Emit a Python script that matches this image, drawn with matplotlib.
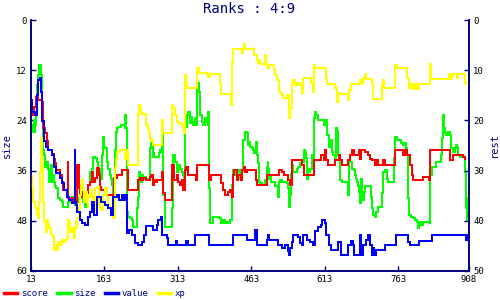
import matplotlib
matplotlib.use('Agg')
import matplotlib.pyplot as plt
from matplotlib.lines import Line2D

plt.rcParams['font.family'] = ['DejaVu Sans Mono']

# score (right axis)
score_x = [13, 16, 19, 24, 27, 36, 38, 42, 45, 48, 55, 59, 62, 65, 72, 76, 79, 86, 88, 89, 100,
           108, 111, 113, 120, 123, 130, 134, 137, 140, 144, 147, 151, 154, 157, 168, 183, 188, 198, 211,
           232, 235, 239, 242, 249, 256, 258, 262, 264, 268, 271, 281, 283, 287, 302, 305, 311, 314, 317,
           321, 324, 327, 330, 334, 350, 353, 376, 380, 402, 406, 409, 416, 420, 423, 425, 428,
           433, 437, 442, 445, 449, 451, 454, 472, 474, 495, 520, 525, 529, 539, 542, 546, 547, 566, 570,
           592, 606, 611, 614, 616, 620, 635, 642, 645, 648,
           661, 665, 668, 672, 684, 686, 688, 696, 702, 706, 709, 716, 719, 723, 733, 736, 757, 774, 777,
           781, 787, 791, 794, 813, 826, 828, 869, 876, 895, 900]
score_y = [17.6, 19.0, 17.3, 15.3, 16.0, 16.3, 21.6, 22.6, 24.2, 25.9, 26.6, 27.6, 28.5, 29.9, 30.9, 32.2, 33.9, 35.2, 28.2, 35.5, 36.2,
           28.9, 33.5, 35.2, 34.2, 35.2, 32.9, 32.2, 30.2, 32.2, 31.5, 29.5, 30.9, 33.2, 33.9, 34.9, 31.5, 30.9, 29.9, 33.9,
           31.9, 31.5, 31.9, 31.5, 31.9, 31.2, 30.9, 32.9, 31.9, 32.2, 31.9, 30.2, 34.5, 35.9, 28.9, 31.9, 30.9, 32.2, 32.9,
           31.9, 33.9, 29.9, 29.2, 30.9, 31.9, 28.9, 31.9, 30.9, 32.5, 33.9, 34.9, 34.2, 33.9, 35.2, 30.9, 29.9,
           31.9, 30.9, 31.9, 29.9, 29.2, 30.2, 29.9, 31.9, 32.9, 30.9, 29.9, 30.2, 30.9, 31.9, 32.9, 29.9, 27.9, 28.9, 30.9,
           27.9, 26.9, 27.9, 25.9, 27.9, 28.9, 27.9, 26.9, 27.9, 28.9,
           27.9, 26.9, 25.9, 26.9, 25.9, 27.6, 25.9, 26.2, 26.9, 27.6, 27.9, 28.9, 27.9, 28.9, 27.9, 28.9, 25.9, 26.9, 25.9,
           26.9, 28.9, 30.9, 31.9, 31.2, 31.9, 25.9, 27.9, 26.9, 27.2, 27.6]

# size (left axis)
size_x = [13, 15, 17, 19, 21, 22, 24, 26, 28, 29, 33, 35, 36, 38, 40, 41, 43, 47, 50, 52, 54, 55, 58,
          61, 63, 65, 69, 72, 76, 79, 89, 93, 96, 99, 103, 106, 110, 115, 120, 123, 127, 130, 133, 137,
          140, 143, 147, 150, 154, 157, 159, 161, 163, 164, 168, 171, 174, 176, 179, 181, 183, 185, 186,
          188, 191, 197, 205, 206, 208, 209, 212, 215, 220, 222,
          229, 230, 232, 234, 236, 237, 239, 242, 246, 249, 253, 256, 257, 259, 260, 262, 263, 264, 275,
          277, 278, 280, 281, 283, 287, 302, 304, 307, 311, 314, 317, 321, 324, 326, 328, 331, 334, 337,
          339, 341, 345, 348, 351, 353, 355, 357, 358, 362, 365, 369, 372, 374, 375, 377, 379, 385, 398,
          401, 406, 409, 413, 416, 419, 423, 424, 426, 430, 433, 437,
          440, 445, 447, 450, 454, 456, 459, 461, 464, 467, 469, 472, 474, 476, 478, 479, 481, 484, 491,
          495, 497, 498, 500, 501, 503, 512, 518, 520, 522, 525, 536, 539, 541, 542, 544, 547, 549, 556,
          559, 563, 566, 570, 573, 574, 576, 578, 580, 583, 588, 590, 592, 593, 595, 600, 612, 615, 617,
          621, 624, 626, 628, 631, 634, 637, 638, 639, 641, 644, 649,
          661, 663, 668, 672, 675, 677, 680, 682, 684, 685, 687, 689, 691, 693, 695, 707, 709, 712, 716,
          718, 723, 731, 733, 736, 740, 743, 755, 757, 760, 770, 774, 777, 779, 781, 783, 784, 786, 789,
          793, 798, 802, 804, 806, 808, 811, 814, 827, 829, 832, 841, 850, 852, 854, 856, 859, 862, 866,
          869, 871, 876, 879, 881, 884, 886, 890, 900, 902, 903, 905, 907]
size_y = [26.3, 25.1, 26.7, 23.9, 26.7, 25.1, 22.7, 15.5, 13.1, 10.8, 13.1, 18.7, 22.7, 31.1, 32.3, 35.1, 33.9, 35.5, 38.7, 37.1, 34.7, 38.7, 37.1,
          38.7, 39.8, 40.2, 42.6, 43.0, 43.4, 44.6, 43.4, 43.0, 42.2, 43.8, 44.2, 43.4, 42.6, 42.2, 43.4, 44.6, 43.4, 39.4, 36.3, 35.5,
          32.7, 33.1, 33.9, 35.5, 36.7, 37.9, 32.3, 27.9, 30.3, 30.7, 33.9, 35.5, 37.1, 37.9, 39.4, 41.8, 37.9, 31.1, 26.7,
          25.9, 25.5, 25.1, 25.9, 22.7, 25.9, 45.8, 47.0, 47.4, 47.8, 49.4,
          49.0, 45.0, 42.2, 36.3, 37.9, 38.7, 37.1, 37.9, 37.5, 38.3, 37.9, 37.1, 30.7, 28.7, 29.1, 32.7, 31.9, 32.7, 31.9,
          31.1, 31.5, 29.9, 26.7, 41.8, 49.4, 45.0, 32.3, 33.9, 36.3, 34.7, 35.5, 36.3, 37.1, 38.7, 25.5, 22.7, 21.9, 24.7,
          23.1, 24.3, 25.1, 23.5, 25.1, 15.5, 15.1, 17.1, 22.7, 24.3, 25.1, 23.5, 24.3, 25.1, 21.9, 40.2, 48.6, 47.0, 47.4,
          48.6, 47.8, 48.6, 48.2, 48.6, 47.8, 45.8, 39.4, 35.9, 37.1, 36.3, 35.9,
          37.9, 35.9, 28.7, 26.7, 27.1, 29.9, 29.1, 30.3, 30.7, 31.1, 31.9, 29.1, 32.3, 34.3, 37.1, 38.7, 39.0, 39.4, 38.3,
          35.1, 33.9, 35.5, 37.9, 37.1, 38.7, 39.8, 42.2, 38.7, 38.3, 38.7, 39.0, 40.2, 44.6, 41.8, 36.7, 34.7, 36.3, 35.5,
          35.1, 34.3, 33.9, 31.1, 31.5, 33.1, 37.9, 35.5, 36.3, 35.5, 32.3, 34.7, 23.5, 21.9, 22.7, 23.9, 25.1, 23.9, 27.5,
          30.3, 29.9, 28.7, 31.5, 32.3, 33.1, 25.9, 30.7, 26.5, 32.3, 38.3, 38.7,
          41.8, 33.9, 35.5, 35.9, 37.1, 37.9, 38.7, 39.8, 41.0, 43.8, 37.9, 41.8, 43.0, 41.0, 39.8, 42.2, 45.0, 46.6, 47.0,
          45.8, 44.6, 41.4, 36.3, 35.9, 37.9, 38.7, 33.1, 27.9, 28.7, 29.5, 29.9, 29.5, 30.7, 32.3, 36.7, 42.6, 46.6, 47.0,
          47.4, 47.8, 48.2, 49.8, 49.0, 48.2, 49.0, 48.2, 48.6, 37.1, 35.1, 33.9, 32.3, 28.3, 22.7, 25.9, 27.1, 27.5, 26.7,
          27.5, 30.7, 31.5, 30.7, 29.9, 30.3, 32.3, 32.7, 36.3, 45.0, 47.8, 42.6, 40.2]

# value (right axis)
value_x = [13, 16, 21, 25, 27, 31, 33, 36, 39, 43, 48, 55, 61, 65, 72, 77, 81, 86, 91, 96, 102, 103,
           104, 108, 113, 118, 123, 129, 134, 137, 142, 147, 157, 164, 170, 177, 181, 188, 193, 198, 204,
           206, 209, 213, 220, 226, 232, 239, 243, 249, 263, 270, 273, 278, 281, 290, 292, 309, 311, 330,
           334, 348, 376, 425, 454, 471, 474, 495, 497, 499, 518, 526, 533, 539, 541, 543, 546, 549, 558,
           563, 566, 569, 576, 583, 590, 593, 600, 606, 608, 614, 615, 621, 627, 641, 646, 661, 666, 670,
           673, 686, 688, 692, 697, 702, 706, 710, 712, 714, 717, 736, 759, 784, 787, 806, 833, 901, 903]
value_y = [15.9, 18.3, 18.9, 14.9, 12.0, 11.6, 14.3, 20.2, 24.2, 25.2, 25.9, 26.9, 29.2, 30.5, 31.5, 32.5, 33.9, 35.2, 35.9, 36.5, 25.9, 36.2,
           36.8, 38.2, 39.8, 40.5, 40.8, 39.2, 38.2, 36.2, 38.8, 35.2, 36.2, 36.8, 37.5, 38.8, 35.2, 34.9, 35.9, 34.9, 35.9,
           34.9, 42.5, 41.8, 42.8, 44.5, 44.8, 44.2, 42.8, 41.0, 41.8, 40.8, 39.8, 39.2, 42.8, 43.5, 44.8, 44.0, 44.8, 44.0,
           44.8, 42.8, 44.8, 42.8, 43.8, 41.8, 44.8, 43.9, 42.8, 43.9, 44.8, 45.5, 44.8, 46.0, 46.8, 45.5, 44.2, 42.8, 43.2,
           44.5, 44.8, 42.8, 43.8, 44.2, 44.8, 42.0, 41.2, 40.8, 39.8, 40.5, 42.8, 44.8, 45.8, 44.2, 46.8, 44.8, 44.0, 44.8,
           46.8, 42.8, 46.8, 44.8, 43.8, 42.8, 44.8, 46.8, 45.5, 46.8, 45.8, 44.8, 42.8, 44.2, 44.8, 44.0, 42.8, 43.8, 42.8]

# xp (right axis)
xp_x = [13, 16, 18, 21, 25, 27, 28, 30, 31, 33, 35, 36, 38, 40, 43, 45, 47, 50, 54, 57, 59, 61, 63,
        65, 69, 72, 76, 79, 82, 86, 88, 91, 93, 96, 100, 103, 104, 106, 108, 111, 113, 115, 118, 120,
        122, 124, 127, 129, 130, 134, 135, 137, 140, 144, 147, 151, 154, 157, 161, 164, 168, 171, 174,
        178, 181, 185, 186, 188, 195, 205, 206, 208, 212,
        232, 234, 236, 238, 239, 248, 249, 253, 255, 256, 258, 260, 262, 281, 283, 302, 304, 307, 311,
        314, 321, 324, 326, 328, 330, 332, 353, 356, 373, 375, 378, 400, 402, 421, 424, 426,
        445, 447, 449, 451, 469, 474, 477, 479, 481, 492, 494, 497, 499, 509, 512, 516, 519, 522, 525,
        528, 536, 541, 543, 546, 548, 552, 556, 563, 566, 568, 586, 589, 591, 593, 615, 618, 634, 639,
        641, 644, 660, 662, 667, 686, 688, 692, 695, 697, 710, 712, 730, 733, 735, 757, 760, 781, 785,
        788, 791, 794, 797, 800, 803, 805, 829, 831, 868, 870, 873, 876, 884, 886, 899, 901]
xp_y = [31.0, 33.5, 36.2, 37.5, 38.8, 37.5, 39.5, 36.2, 30.2, 23.6, 24.2, 29.5, 36.2, 40.2, 42.2, 39.8, 40.8, 41.5, 42.8, 43.2, 44.8, 45.8, 44.8,
        45.8, 44.2, 44.8, 43.8, 44.2, 43.8, 43.5, 39.8, 40.2, 42.2, 41.5, 43.5, 41.5, 40.2, 41.5, 39.5, 37.5, 34.9, 32.9, 31.9, 33.5,
        36.2, 34.2, 36.2, 37.2, 34.9, 35.2, 33.9, 35.2, 35.9, 33.5, 33.2, 36.8, 37.5, 37.8, 34.9, 33.5, 35.2, 36.8, 37.5,
        38.8, 39.5, 29.5, 27.6, 26.2, 25.9, 26.2, 27.6, 25.9, 28.9,
        18.9, 16.9, 17.6, 18.6, 18.8, 19.6, 20.9, 21.6, 22.6, 23.6, 24.2, 23.9, 24.9, 19.9, 22.6, 16.9, 17.6, 18.9, 20.2,
        20.6, 20.9, 21.6, 22.6, 11.0, 12.6, 13.6, 9.6, 10.6, 10.8, 11.3, 10.8, 12.6, 14.8, 16.9, 8.3, 5.8,
        6.6, 5.8, 4.8, 5.8, 7.0, 8.0, 8.6, 8.0, 8.8, 7.0, 9.0, 9.6, 9.0, 10.0, 11.0, 11.9, 13.9, 14.6, 14.9,
        15.6, 14.9, 19.6, 17.6, 12.6, 11.9, 12.9, 12.6, 12.9, 14.6, 11.6, 12.6, 14.3, 9.0, 9.6, 11.6, 12.8, 13.6, 16.3,
        14.6, 14.8, 15.9, 13.9, 12.8, 11.9, 12.6, 11.6, 10.8, 11.7, 12.6, 15.7, 12.8, 11.9, 13.6, 9.0, 9.6, 11.6, 13.6,
        12.8, 13.7, 12.8, 13.7, 12.8, 13.7, 12.8, 8.8, 11.7, 10.8, 11.7, 11.2, 10.8, 11.6, 10.8, 12.6, 12.8]

x_ticks = [13, 163, 313, 463, 613, 763, 908]
left_ticks = [0, 12, 24, 36, 48, 60]
right_ticks = [0, 10, 20, 30, 40, 50]

navy = '#000080'

fig = plt.figure(figsize=(5, 3), dpi=100)
ax = fig.add_axes([0.062, 0.0967, 0.876, 0.8366])
ax2 = ax.twinx()

lw = 1.4
ax.plot(size_x, size_y, color='#00ff00', lw=lw, drawstyle='steps-post', antialiased=False)
ax2.plot(score_x, score_y, color='#ff0000', lw=lw, drawstyle='steps-post', antialiased=False)
ax2.plot(xp_x, xp_y, color='#ffff00', lw=lw, drawstyle='steps-post', antialiased=False)
ax2.plot(value_x, value_y, color='#0000ff', lw=lw, drawstyle='steps-post', antialiased=False)

ax.set_xlim(13, 908)
ax.set_ylim(60, 0)
ax2.set_ylim(50, 0)
ax.set_xticks(x_ticks)
ax.set_yticks(left_ticks)
ax2.set_yticks(right_ticks)

for a in (ax, ax2):
    a.spines['top'].set_visible(False)
    for s in ('left', 'right', 'bottom'):
        a.spines[s].set_color(navy)
        a.spines[s].set_linewidth(1.2)
    a.tick_params(direction='in', length=3.5, width=1, color=navy, labelsize=6.5, pad=3)

ax.set_ylabel('size', color=navy, fontsize=7.5)
ax.yaxis.set_label_coords(-0.044, 0.5)
ax2.set_ylabel('rest', color=navy, fontsize=7.5, rotation=90)
ax2.yaxis.set_label_coords(1.046, 0.5)

fig.text(0.498, 0.97, 'Ranks : 4:9', color=navy, fontsize=10, ha='center', va='center')

handles = [Line2D([], [], color=c, lw=2.5) for c in ('#ff0000', '#00ff00', '#0000ff', '#ffff00')]
leg = fig.legend(handles, ['score', 'size', 'value', 'xp'], loc='center left', bbox_to_anchor=(0.006, 0.022),
                 ncol=4, frameon=False, fontsize=6.5, handlelength=1.5, handletextpad=0.4,
                 columnspacing=1.0, borderpad=0.1, borderaxespad=0)
for t in leg.get_texts():
    t.set_color(navy)

fig.savefig('out.png', dpi=100)
